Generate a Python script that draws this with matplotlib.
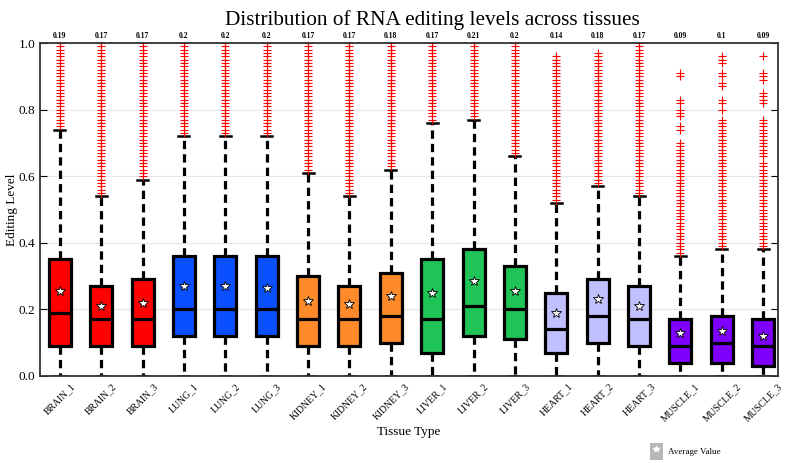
import numpy as np
import matplotlib
matplotlib.use("Agg")
import matplotlib.pyplot as plt
from matplotlib.patches import Patch
from matplotlib.lines import Line2D
from matplotlib.legend_handler import HandlerTuple

plt.rcParams['font.family'] = ['Liberation Serif', 'DejaVu Serif']

labels = ['BRAIN_1', 'BRAIN_2', 'BRAIN_3', 'LUNG_1', 'LUNG_2', 'LUNG_3',
          'KIDNEY_1', 'KIDNEY_2', 'KIDNEY_3', 'LIVER_1', 'LIVER_2', 'LIVER_3',
          'HEART_1', 'HEART_2', 'HEART_3', 'MUSCLE_1', 'MUSCLE_2', 'MUSCLE_3']
q1 = [0.09, 0.09, 0.09, 0.12, 0.12, 0.12, 0.09, 0.09, 0.10, 0.07, 0.12, 0.11,
      0.07, 0.10, 0.09, 0.04, 0.04, 0.03]
medians = [0.19, 0.17, 0.17, 0.20, 0.20, 0.20, 0.17, 0.17, 0.18, 0.17, 0.21, 0.20,
           0.14, 0.18, 0.17, 0.09, 0.10, 0.09]
q3 = [0.35, 0.27, 0.29, 0.36, 0.36, 0.36, 0.30, 0.27, 0.31, 0.35, 0.38, 0.33,
      0.25, 0.29, 0.27, 0.17, 0.18, 0.17]
whisk_lo = [0.0] * 18
whisk_hi = [0.74, 0.54, 0.59, 0.72, 0.72, 0.72, 0.61, 0.54, 0.62, 0.76, 0.77, 0.66,
            0.52, 0.57, 0.54, 0.36, 0.38, 0.38]
means = [0.255, 0.21, 0.22, 0.27, 0.27, 0.265, 0.225, 0.215, 0.24, 0.25, 0.285, 0.255,
         0.19, 0.23, 0.21, 0.13, 0.135, 0.12]
median_labels = ['0.19', '0.17', '0.17', '0.2', '0.2', '0.2', '0.17', '0.17', '0.18',
                 '0.17', '0.21', '0.2', '0.14', '0.18', '0.17', '0.09', '0.1', '0.09']

# outliers, in hundredths of editing level
fliers_pct = [
    [75, 76, 77, 78, 79, 80, 81, 82, 83, 84, 85, 86, 87, 88, 89, 90, 91, 92, 93, 94, 95, 96, 97, 98, 99, 100],
    [55, 56, 57, 58, 59, 60, 61, 62, 63, 64, 65, 66, 67, 68, 69, 70, 71, 72, 73, 74, 75, 76, 77, 78, 79, 80,
     81, 82, 83, 84, 85, 86, 87, 88, 89, 90, 91, 92, 93, 94, 95, 96, 97, 98, 99, 100],
    [60, 61, 62, 63, 64, 65, 66, 67, 68, 69, 70, 71, 72, 73, 74, 75, 76, 77, 78, 79, 80, 81, 82, 83, 84, 85,
     86, 87, 88, 89, 90, 91, 92, 93, 94, 95, 96, 97, 98, 99, 100],
    [73, 74, 75, 76, 77, 78, 79, 80, 81, 82, 83, 84, 85, 86, 87, 88, 89, 90, 91, 92, 93, 94, 95, 96, 97, 98, 99, 100],
    [73, 74, 75, 76, 77, 78, 79, 80, 81, 82, 83, 84, 85, 86, 87, 88, 89, 90, 91, 92, 93, 94, 95, 96, 97, 98, 99, 100],
    [73, 74, 75, 76, 77, 78, 79, 80, 81, 82, 83, 84, 85, 86, 87, 88, 89, 90, 91, 92, 93, 94, 95, 96, 97, 98, 99, 100],
    [62, 63, 64, 65, 66, 67, 68, 69, 70, 71, 72, 73, 74, 75, 76, 77, 78, 79, 80, 81, 82, 83, 84, 85, 86, 87,
     88, 89, 90, 91, 92, 93, 94, 95, 96, 97, 98, 99, 100],
    [55, 56, 57, 58, 59, 60, 61, 62, 63, 64, 65, 66, 67, 68, 69, 70, 71, 72, 73, 74, 75, 76, 77, 78, 79, 80,
     81, 82, 83, 84, 85, 86, 87, 88, 89, 90, 91, 92, 93, 94, 95, 96, 97, 98, 99, 100],
    [63, 64, 65, 66, 67, 68, 69, 70, 71, 72, 73, 74, 75, 76, 77, 78, 79, 80, 81, 82, 83, 84, 85, 86, 87, 88,
     89, 90, 91, 92, 93, 94, 95, 96, 97, 98, 99, 100],
    [77, 78, 79, 80, 81, 82, 83, 84, 85, 86, 87, 88, 89, 90, 91, 92, 93, 94, 95, 96, 97, 98, 99, 100],
    [78, 79, 80, 81, 82, 83, 84, 85, 86, 87, 88, 89, 90, 91, 92, 93, 94, 95, 96, 97, 98, 99, 100],
    [67, 68, 69, 70, 71, 72, 73, 74, 75, 76, 77, 78, 79, 80, 81, 82, 83, 84, 85, 86, 87, 88, 89, 90, 91, 92,
     93, 94, 95, 96, 97, 98, 99, 100],
    [53, 54, 55, 56, 57, 58, 59, 60, 61, 62, 63, 64, 65, 66, 67, 68, 69, 70, 71, 72, 73, 74, 75, 76, 77, 78,
     79, 80, 81, 82, 83, 84, 85, 86, 87, 88, 89, 90, 91, 92, 93, 94, 95, 96],
    [58, 59, 60, 61, 62, 63, 64, 65, 66, 67, 68, 69, 70, 71, 72, 73, 74, 75, 76, 77, 78, 79, 80, 81, 82, 83,
     84, 85, 86, 87, 88, 89, 90, 91, 92, 93, 94, 95, 96, 97],
    [55, 56, 57, 58, 59, 60, 61, 62, 63, 64, 65, 66, 67, 68, 69, 70, 71, 72, 73, 74, 75, 76, 77, 78, 79, 80,
     81, 82, 83, 84, 85, 86, 87, 88, 89, 90, 91, 92, 93, 94, 95, 96, 97, 98, 99, 100],
    [37, 38, 39, 40, 41, 42, 43, 44, 45, 46, 47, 48, 49, 50, 51, 52, 53, 54, 55, 56, 57, 58, 59, 60, 61, 62,
     63, 64, 65, 66, 67, 68, 69, 70, 74, 75, 78, 79, 80, 82, 83, 90, 91],
    [39, 40, 41, 42, 43, 44, 45, 46, 47, 48, 49, 50, 51, 52, 53, 54, 55, 56, 57, 58, 59, 60, 61, 62, 63, 64,
     65, 66, 67, 68, 69, 70, 71, 72, 73, 74, 75, 76, 77, 80, 82, 83, 87, 88, 90, 91, 94, 95, 96],
    [39, 40, 41, 42, 43, 44, 45, 46, 47, 48, 49, 50, 51, 52, 53, 54, 55, 56, 57, 58, 59, 60, 61, 62, 63, 64,
     66, 67, 68, 69, 70, 71, 72, 73, 74, 75, 76, 77, 82, 83, 84, 85, 89, 90, 91, 96],
]
box_colors = ['#ff0000'] * 3 + ['#0a50ff'] * 3 + ['#ff8a2a'] * 3 + ['#1ec455'] * 3 + \
             ['#c0c0ff'] * 3 + ['#7f00ff'] * 3

stats = []
for i in range(len(labels)):
    stats.append(dict(label=labels[i], med=medians[i], q1=q1[i], q3=q3[i],
                      whislo=whisk_lo[i], whishi=whisk_hi[i], mean=means[i],
                      fliers=np.array(fliers_pct[i]) / 100.0))

fig = plt.figure(figsize=(7.87, 4.63), dpi=100)
ax = fig.add_axes([0.0508, 0.188, 0.9378, 0.719])

positions = np.arange(1, len(labels) + 1)
bp = ax.bxp(stats, positions=positions, widths=0.53, patch_artist=True, showmeans=True,
            boxprops=dict(linewidth=2.3, edgecolor='black'),
            medianprops=dict(color='black', linewidth=2.3),
            whiskerprops=dict(color='black', linewidth=2.3, linestyle=(0, (2.6, 1.6))),
            capprops=dict(color='black', linewidth=1.8),
            flierprops=dict(marker='+', markeredgecolor='#ff0000', markersize=5.5,
                            markeredgewidth=0.8, linestyle='none'),
            meanprops=dict(marker='*', markerfacecolor='white', markeredgecolor='black',
                           markersize=7, markeredgewidth=0.6))
for patch, c in zip(bp['boxes'], box_colors):
    patch.set_facecolor(c)

ax.set_xlim(0.52, 18.36)
ax.set_ylim(0, 1.0)
ax.set_yticks([0.0, 0.2, 0.4, 0.6, 0.8, 1.0])
ax.yaxis.grid(True, color='#e6e6e6', linewidth=0.8)
ax.set_axisbelow(True)
ax.tick_params(axis='y', direction='in', right=True, labelsize=9.5, length=5)
ax.tick_params(axis='x', direction='in', length=0, labelsize=7, pad=4)
ax.set_xticks(positions)
ax.set_xticklabels(labels, rotation=45)
for sp in ax.spines.values():
    sp.set_linewidth(1.3)
    sp.set_color('#333333')

for x, t in zip(positions, median_labels):
    ax.text(x, 1.008, t, ha='center', va='bottom', fontsize=5.5, fontweight='bold',
            transform=ax.get_xaxis_transform())

ax.set_title('Distribution of RNA editing levels across tissues', fontsize=15.3, pad=13,
             x=0.531)
ax.set_ylabel('Editing Level', fontsize=9.5, labelpad=0)
ax.set_xlabel('Tissue Type', fontsize=9.5, labelpad=2)

handle = (Patch(facecolor='#b8b8b8', edgecolor='none'),
          Line2D([], [], marker='*', color='white', markersize=4, linestyle='none'))
fig.legend([handle], ['Average Value'], handler_map={tuple: HandlerTuple(ndivide=1)},
           loc='center left', bbox_to_anchor=(0.815, 0.025), frameon=False, fontsize=6.5,
           handlelength=1.5, handleheight=2.4, handletextpad=0.6)

fig.savefig('out.png', dpi=100)
